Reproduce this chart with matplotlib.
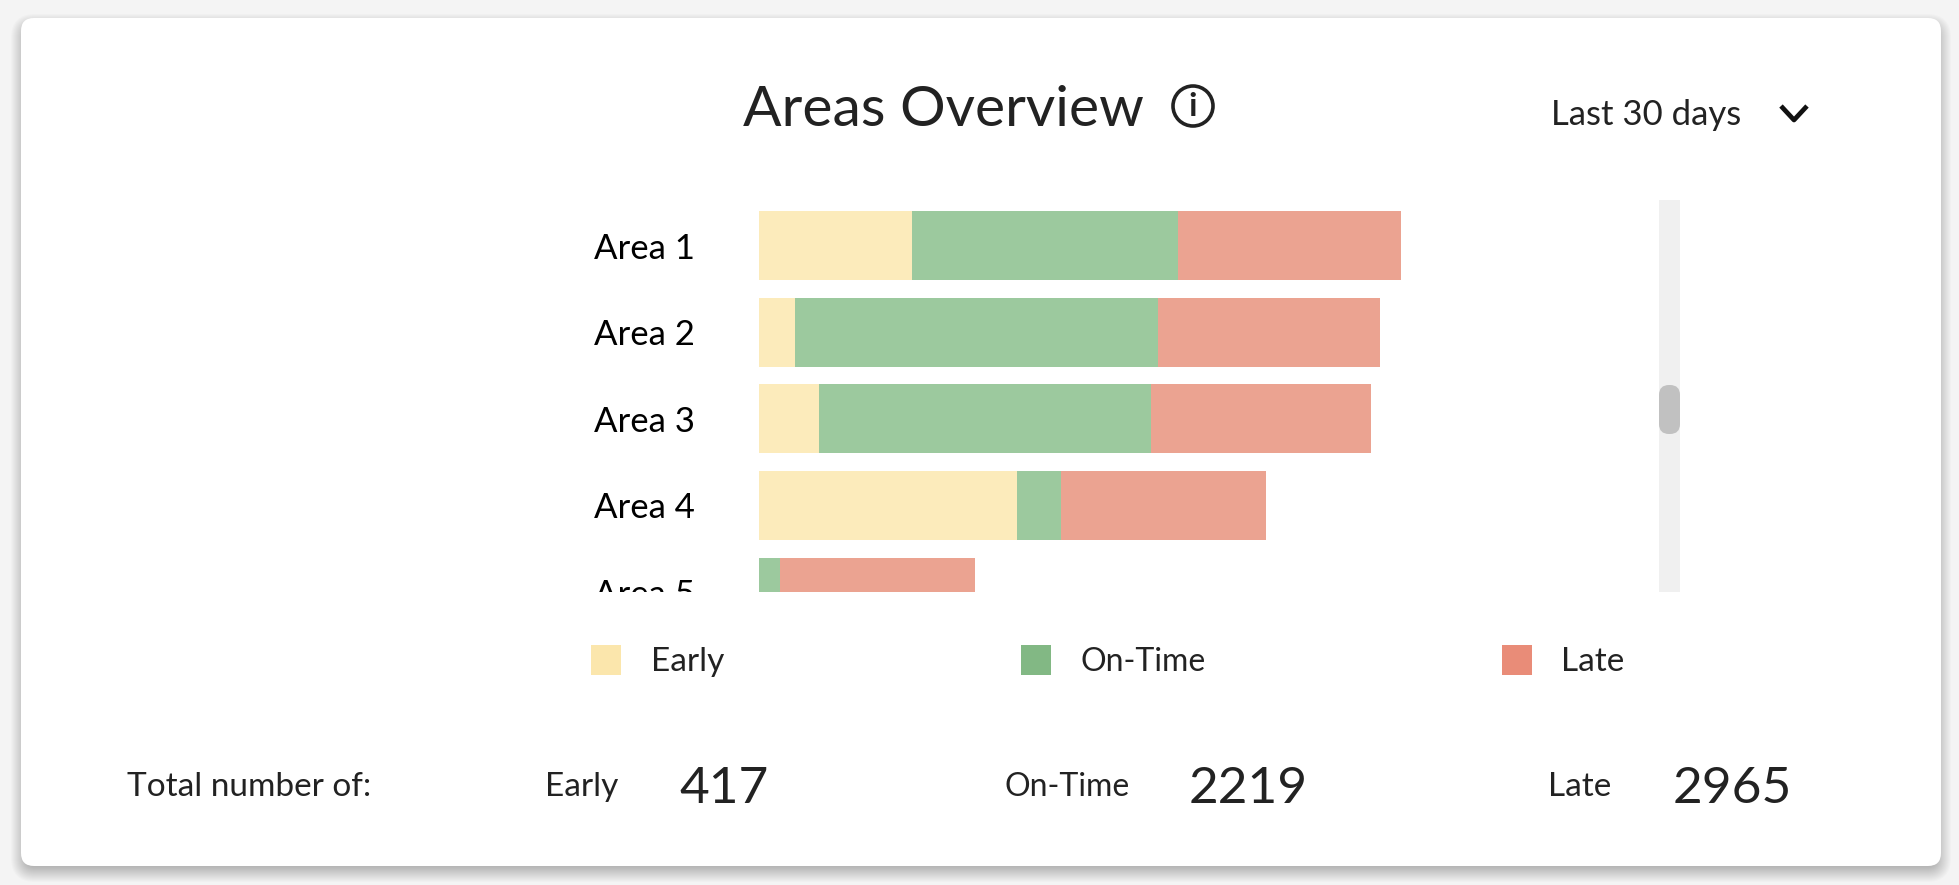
import matplotlib
matplotlib.use("Agg")
import matplotlib.pyplot as plt
import numpy as np
from matplotlib.patches import FancyBboxPatch, Circle, Rectangle
from matplotlib.transforms import Bbox

W, H = 1959, 885

areas = ["Area 1", "Area 2", "Area 3", "Area 4", "Area 5"]
early = [153, 36, 60, 258, 0]
on_time = [266, 363, 332, 44, 21]
late = [223, 222, 220, 205, 195]

bar_colors = ["#fcebbb", "#9cc99e", "#eba391"]
legend_colors = ["#fbe6ac", "#82b884", "#e98c78"]
legend_names = ["Early", "On-Time", "Late"]
legend_sizes = [24, 23, 24]
totals = ["417", "2219", "2965"]

plt.rcParams["font.family"] = ["Lato", "DejaVu Sans"]

fig = plt.figure(figsize=(W / 100, H / 100), dpi=100, facecolor="#f4f4f4")

# pixel canvas behind everything, y goes down like in the screenshot
bg = fig.add_axes([0, 0, 1, 1], zorder=0)
bg.set_xlim(0, W)
bg.set_ylim(H, 0)
bg.axis("off")


def card(x0, y0, x1, y1, r, **kw):
    p = FancyBboxPatch((x0 + r, y0 + r), x1 - x0 - 2 * r, y1 - y0 - 2 * r,
                       boxstyle=f"round,pad={r},rounding_size={r}", linewidth=0, **kw)
    bg.add_patch(p)


# soft shadow, stronger under the card
for grow in range(10, -9, -1):
    card(21 - grow, 18 - grow + 6, 1941 + grow, 866 + grow + 6, max(14 + grow, 6),
         facecolor="black", alpha=0.017)
card(21, 18, 1941, 866, 13, facecolor="white")


def label(x, y, s, size, color="#222222", **kw):
    bg.text(x, y, s, fontsize=size, color=color, va="center", ha=kw.pop("ha", "left"), **kw)


# header
label(743, 110, "Areas Overview", 41)
bg.add_patch(Circle((1193, 106), 20, facecolor="none", edgecolor="#222222", linewidth=2.6))
label(1193, 106, "i", 24, ha="center", fontweight="bold")
label(1551, 115, "Last 30 days", 25)
bg.plot([1781, 1794, 1807], [106, 120, 106], color="#111111", linewidth=3.4, solid_capstyle="butt")

# scrollbar
bg.add_patch(Rectangle((1659, 200), 21, 392, facecolor="#f0f0f0", linewidth=0))
card(1659, 385, 1680, 434, 10, facecolor="#c1c1c1")

# legend
leg_x = [591, 1021, 1502]
txt_x = [651, 1081, 1561]
for x, tx, c, n, fs in zip(leg_x, txt_x, legend_colors, legend_names, legend_sizes):
    bg.add_patch(Rectangle((x, 645), 30, 30, facecolor=c, linewidth=0))
    label(tx, 662, n, fs)

# totals row
label(127, 787, "Total number of:", 24)
name_x = [545, 1005, 1548]
num_x = [679, 1189, 1673]
for nx, vx, n, t, fs in zip(name_x, num_x, legend_names, totals, legend_sizes):
    label(nx, 787, n, fs)
    label(vx, 789, t, 37)

# the chart itself, cut off at the bottom like a scrolled panel
ax = fig.add_axes([759 / W, 1 - 592 / H, 900 / W, 392 / H], zorder=1)
ax.patch.set_alpha(0)
y = np.arange(len(areas))
left = np.zeros(len(areas))
for vals, c in zip([early, on_time, late], bar_colors):
    ax.barh(y, vals, left=left, height=0.793, color=c, linewidth=0)
    left += np.array(vals)
ax.set_xlim(0, 900)
ax.set_ylim(3.98, -0.526)
ax.set_xticks([])
ax.set_yticks(y)
ax.set_yticklabels(areas, fontsize=25, color="black", ha="left")
ax.tick_params(axis="y", length=0, pad=(759 - 594) * 0.72)
for s in ax.spines.values():
    s.set_visible(False)

# Area 5 label has to be cut off with the bars
clip = Bbox([[0, 885 - 592], [W, 885 - 200]])
for t in ax.get_yticklabels():
    t.set_clip_on(True)
    t.set_clip_box(clip)

fig.savefig("out.png", dpi=100, facecolor=fig.get_facecolor())
